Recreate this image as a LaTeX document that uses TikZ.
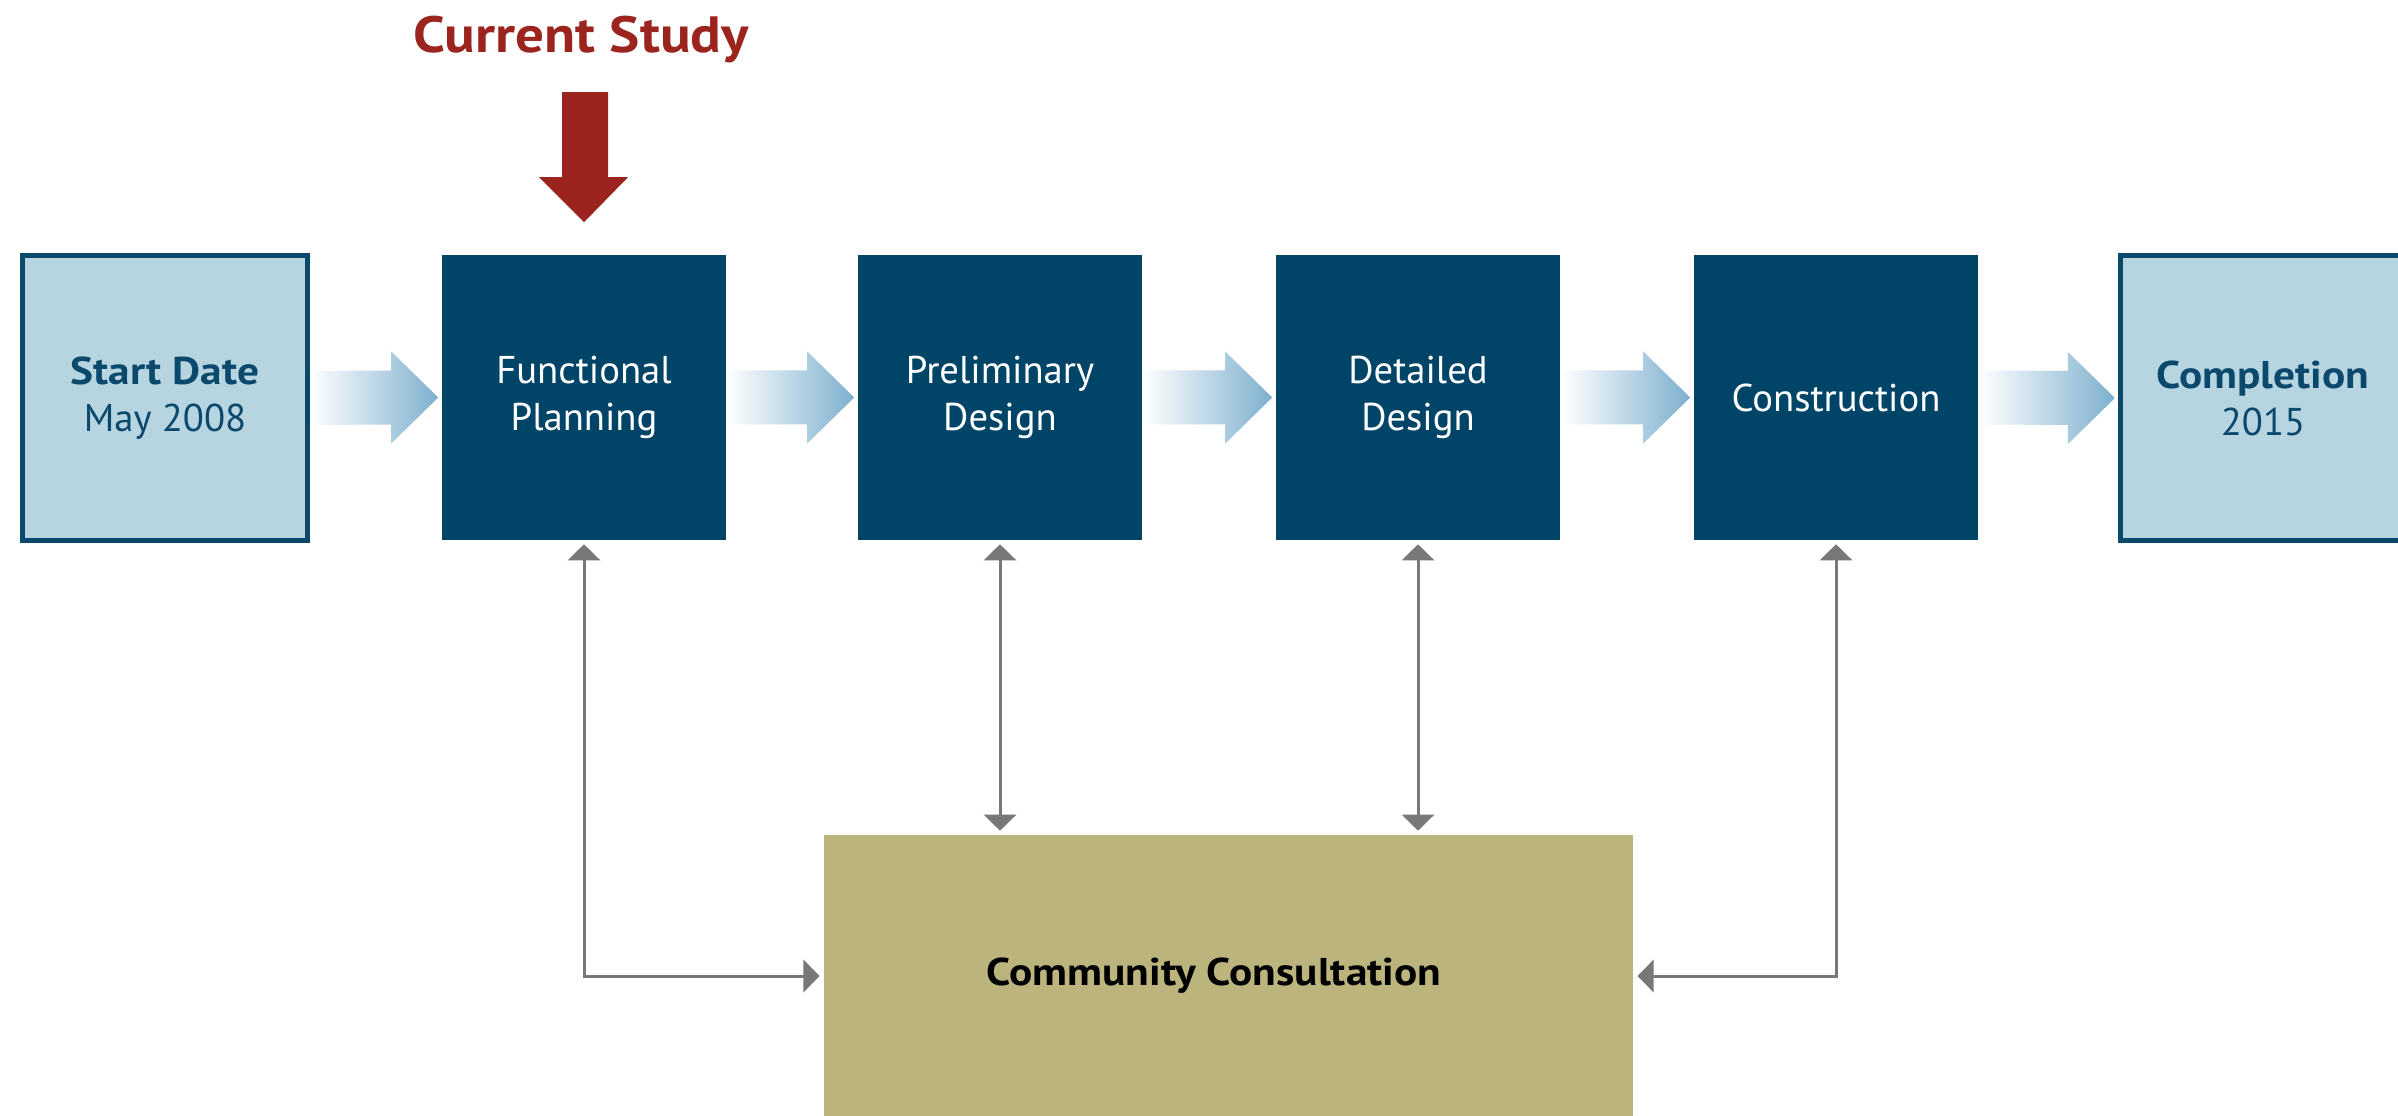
\documentclass[tikz,border=0pt]{standalone}
\usepackage{fontspec}
\setmainfont{PT Sans}[BoldFeatures={FakeStretch=1.12}]
\usetikzlibrary{arrows.meta,calc}
\definecolor{boxblue}{RGB}{0,69,104}
\definecolor{lightblue}{RGB}{183,213,224}
\definecolor{edgeblue}{RGB}{10,72,108}
\definecolor{olive}{RGB}{187,180,124}
\definecolor{studyred}{RGB}{155,36,30}
\definecolor{conngray}{RGB}{120,120,120}
\definecolor{arrowblue}{RGB}{125,176,206}
\newcommand\blockarr[2]{%
  \coordinate (t) at ($(#2.west)+(-3,0)$);
  \shade[left color=white,right color=arrowblue]
    ($(#1.east)+(0,-27)$) -- ($(t)+(-47,-27)$) -- ($(t)+(-47,-46)$) -- (t)
    -- ($(t)+(-47,46)$) -- ($(t)+(-47,27)$) -- ($(#1.east)+(0,27)$) -- cycle;}
\begin{document}
\begin{tikzpicture}[x=0.01cm,y=-0.01cm,
  txt/.style={font=\fontsize{11pt}{13.4pt}\selectfont, align=center, inner sep=0pt},
  phase/.style={txt, fill=boxblue, text=white, minimum width=2.84cm, minimum height=2.85cm},
  milestone/.style={txt, fill=lightblue, draw=edgeblue, line width=1.42pt, text=edgeblue,
     minimum width=2.85cm, minimum height=2.85cm},
  consult/.style={txt, fill=olive, text=black, minimum width=8.09cm, minimum height=2.82cm},
  conn/.style={draw=conngray, line width=0.85pt,
     arrows={Triangle[length=4.6pt,width=9.2pt]-Triangle[length=4.6pt,width=9.2pt]},
     shorten <=1pt, shorten >=1pt}]
\useasboundingbox (0,0) rectangle (2398,1116);
\clip (0,0) rectangle (2398,1116);
\fill[white] (0,0) rectangle (2398,1116);

\node[milestone] (start) at (165,398) {\textbf{Start Date}\\May 2008};
\node[phase] (fp) at (584,397.5) {Functional\\Planning};
\node[phase] (pd) at (1000,397.5) {Preliminary\\Design};
\node[phase] (dd) at (1418,397.5) {Detailed\\Design};
\node[phase] (con) at (1836,397.5) {Construction};
\node[milestone] (comp) at (2263,398) {\textbf{Completion}\\2015};
\node[consult] (cc) at (1228.5,976) {\textbf{Community Consultation}\hspace*{0.29cm}};

\blockarr{start}{fp}
\blockarr{fp}{pd}
\blockarr{pd}{dd}
\blockarr{dd}{con}
\blockarr{con}{comp}

\node[font=\fontsize{14.5pt}{17pt}\selectfont\bfseries, text=studyred, inner sep=0pt]
  (study) at (581,40) {Current Study};
\coordinate (tip) at ($(fp.north)+(0,-32)$);
\fill[studyred] (tip) -- ($(tip)+(-45,-45)$) -- ($(tip)+(-22,-45)$) -- ($(tip)+(-22,-130)$)
  -- ($(tip)+(24,-130)$) -- ($(tip)+(24,-45)$) -- ($(tip)+(44,-45)$) -- cycle;

\draw[conn] (cc.west) -| (fp.south);
\draw[conn] (pd.south) -- (pd.south |- cc.north);
\draw[conn] (dd.south) -- (dd.south |- cc.north);
\draw[conn] (cc.east) -| (con.south);
\end{tikzpicture}
\end{document}
